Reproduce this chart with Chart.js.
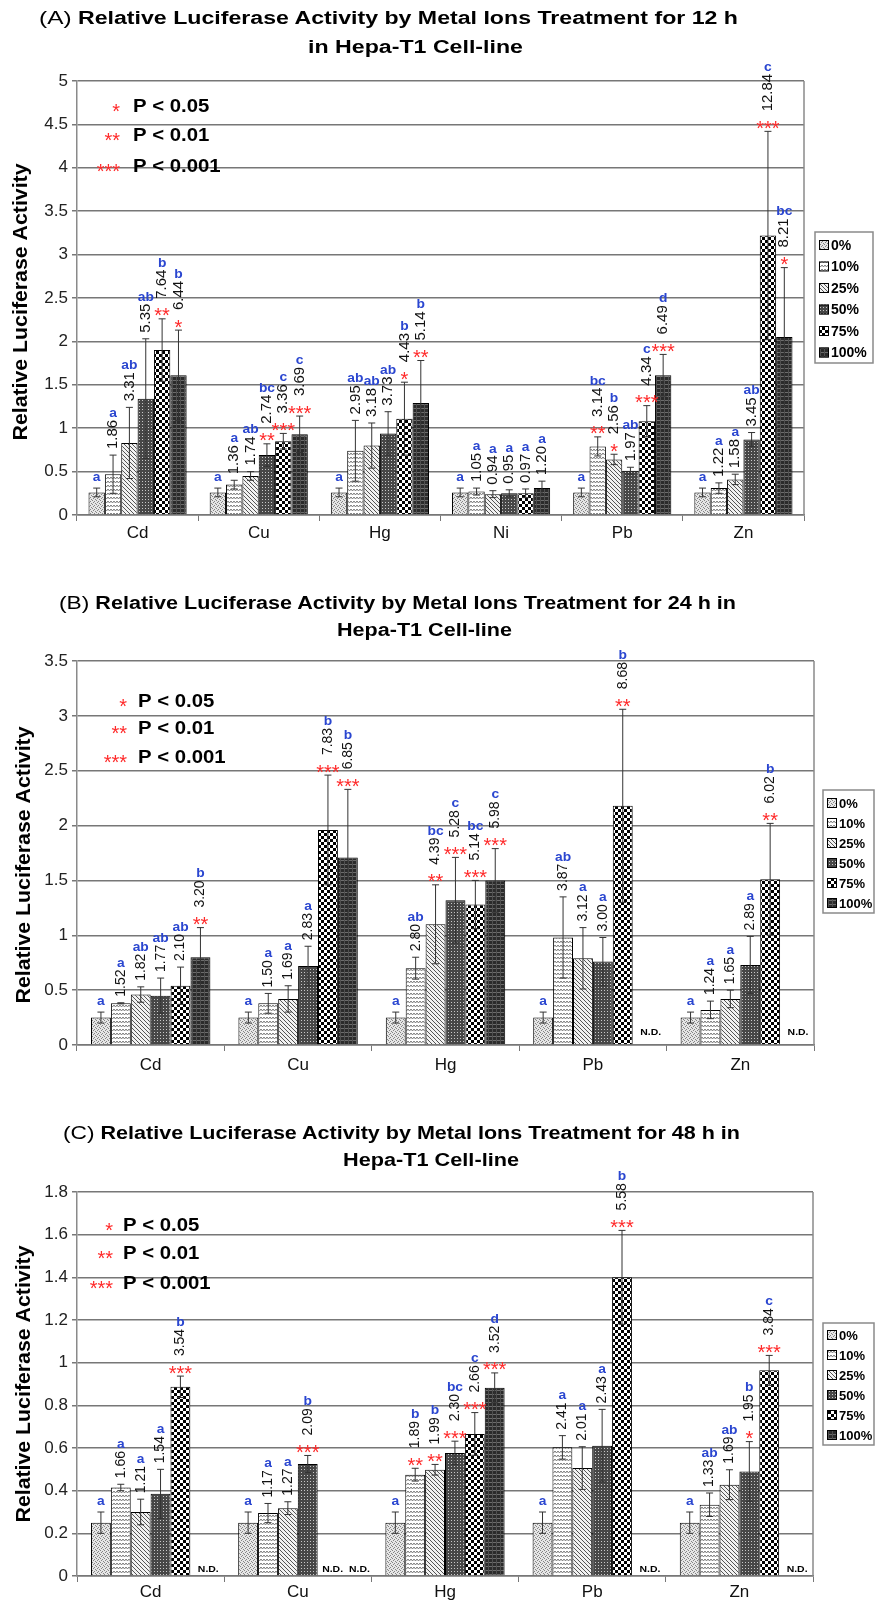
<!DOCTYPE html>
<html>
<head>
<meta charset="utf-8">
<script src="https://cdn.jsdelivr.net/npm/chart.js@4.4.1/dist/chart.umd.min.js"></script>
<style>
  body { margin: 0; background: #fff; width: 875px; height: 1604px; position: relative; overflow: hidden; font-family: "Liberation Sans", Arial, sans-serif; }
  canvas { position: absolute; left: 0; }
  .t { position: absolute; white-space: nowrap; font-weight: bold; font-size: 18px; line-height: 20px; color: #000; transform-origin: 0 50%; }
  .t span { font-weight: normal; font-size: 19px; }
</style>
</head>
<body>
<canvas id="cA"></canvas>
<canvas id="cB"></canvas>
<canvas id="cC"></canvas>

<div class="t" data-l="39" data-r="738" data-y="18"><span>(A)</span> Relative Luciferase Activity by Metal Ions Treatment for 12 h</div>
<div class="t" data-l="308" data-r="523" data-y="47">in Hepa-T1 Cell-line</div>
<div class="t" data-l="59" data-r="736" data-y="603"><span>(B)</span> Relative Luciferase Activity by Metal Ions Treatment for 24 h in</div>
<div class="t" data-l="337" data-r="512" data-y="630">Hepa-T1 Cell-line</div>
<div class="t" data-l="63" data-r="740" data-y="1133"><span>(C)</span> Relative Luciferase Activity by Metal Ions Treatment for 48 h in</div>
<div class="t" data-l="343" data-r="519" data-y="1160">Hepa-T1 Cell-line</div>

<script>
const FONT = "'Liberation Sans', Arial, Helvetica, sans-serif";
Chart.defaults.font.family = FONT;

const series = ['0%', '10%', '25%', '50%', '75%', '100%'];

// rows = series (0% .. 100%), columns = metals

// (A) 12 h
const metalsA = ['Cd', 'Cu', 'Hg', 'Ni', 'Pb', 'Zn'];
const meanA = [
  [0.26, 0.26, 0.26, 0.26, 0.26, 0.26],
  [0.47, 0.35, 0.74, 0.27, 0.79, 0.31],
  [0.83, 0.45, 0.80, 0.24, 0.64, 0.41],
  [1.34, 0.69, 0.94, 0.25, 0.51, 0.87],
  [1.90, 0.85, 1.11, 0.25, 1.08, 3.22],
  [1.61, 0.93, 1.29, 0.31, 1.61, 2.05]
];
const errA = [
  [0.05, 0.05, 0.05, 0.05, 0.05, 0.05],
  [0.22, 0.05, 0.35, 0.04, 0.11, 0.06],
  [0.41, 0.05, 0.26, 0.04, 0.06, 0.06],
  [0.69, 0.13, 0.25, 0.04, 0.04, 0.08],
  [0.36, 0.09, 0.42, 0.05, 0.18, 1.20],
  [0.52, 0.21, 0.49, 0.08, 0.24, 0.80]
];
const foldA = [
  ['', '', '', '', '', ''],
  ['1.86', '1.36', '2.95', '1.05', '3.14', '1.22'],
  ['3.31', '1.74', '3.18', '0.94', '2.56', '1.58'],
  ['5.35', '2.74', '3.73', '0.95', '1.97', '3.45'],
  ['7.64', '3.36', '4.43', '0.97', '4.34', '12.84'],
  ['6.44', '3.69', '5.14', '1.20', '6.49', '8.21']
];
const letterA = [
  ['a', 'a', 'a', 'a', 'a', 'a'],
  ['a', 'a', 'ab', 'a', 'bc', 'a'],
  ['ab', 'ab', 'ab', 'a', 'b', 'a'],
  ['ab', 'bc', 'ab', 'a', 'ab', 'ab'],
  ['b', 'c', 'b', 'a', 'c', 'c'],
  ['b', 'c', 'b', 'a', 'd', 'bc']
];
const starsA = [
  [0, 0, 0, 0, 0, 0],
  [0, 0, 0, 0, 2, 0],
  [0, 0, 0, 0, 1, 0],
  [0, 2, 0, 0, 0, 0],
  [2, 3, 1, 0, 3, 3],
  [1, 3, 2, 0, 3, 1]
];

// (B) 24 h
const metalsB = ['Cd', 'Cu', 'Hg', 'Pb', 'Zn'];
const meanB = [
  [0.25, 0.25, 0.25, 0.25, 0.25],
  [0.38, 0.38, 0.70, 0.98, 0.32],
  [0.46, 0.42, 1.10, 0.79, 0.42],
  [0.45, 0.72, 1.32, 0.76, 0.73],
  [0.54, 1.96, 1.28, 2.18, 1.51],
  [0.80, 1.71, 1.50, null, null]
];
const errB = [
  [0.05, 0.05, 0.05, 0.05, 0.05],
  [0.005, 0.09, 0.10, 0.37, 0.08],
  [0.07, 0.12, 0.36, 0.28, 0.08],
  [0.16, 0.18, 0.39, 0.22, 0.26],
  [0.17, 0.50, 0.22, 0.88, 0.51],
  [0.27, 0.62, 0.29, null, null]
];
const foldB = [
  ['', '', '', '', ''],
  ['1.52', '1.50', '2.80', '3.87', '1.24'],
  ['1.82', '1.69', '4.39', '3.12', '1.65'],
  ['1.77', '2.83', '5.28', '3.00', '2.89'],
  ['2.10', '7.83', '5.14', '8.68', '6.02'],
  ['3.20', '6.85', '5.98', '', '']
];
const letterB = [
  ['a', 'a', 'a', 'a', 'a'],
  ['a', 'a', 'ab', 'ab', 'a'],
  ['ab', 'a', 'bc', 'a', 'a'],
  ['ab', 'a', 'c', 'a', 'a'],
  ['ab', 'b', 'bc', 'b', 'b'],
  ['b', 'b', 'c', '', '']
];
const starsB = [
  [0, 0, 0, 0, 0],
  [0, 0, 0, 0, 0],
  [0, 0, 2, 0, 0],
  [0, 0, 3, 0, 0],
  [0, 3, 3, 2, 2],
  [2, 3, 3, 0, 0]
];

// (C) 48 h
const metalsC = ['Cd', 'Cu', 'Hg', 'Pb', 'Zn'];
const meanC = [
  [0.25, 0.25, 0.25, 0.25, 0.25],
  [0.415, 0.295, 0.475, 0.603, 0.334],
  [0.30, 0.318, 0.498, 0.506, 0.428],
  [0.385, 0.525, 0.577, 0.611, 0.49],
  [0.887, null, 0.666, 1.40, 0.964],
  [null, null, 0.882, null, null]
];
const errC = [
  [0.05, 0.05, 0.05, 0.05, 0.05],
  [0.015, 0.045, 0.03, 0.055, 0.055],
  [0.06, 0.03, 0.025, 0.10, 0.07],
  [0.115, 0.04, 0.055, 0.17, 0.14],
  [0.05, null, 0.10, 0.22, 0.07],
  [null, null, 0.07, null, null]
];
const foldC = [
  ['', '', '', '', ''],
  ['1.66', '1.17', '1.89', '2.41', '1.33'],
  ['1.21', '1.27', '1.99', '2.01', '1.69'],
  ['1.54', '2.09', '2.30', '2.43', '1.95'],
  ['3.54', '', '2.66', '5.58', '3.84'],
  ['', '', '3.52', '', '']
];
const letterC = [
  ['a', 'a', 'a', 'a', 'a'],
  ['a', 'a', 'b', 'a', 'ab'],
  ['a', 'a', 'b', 'a', 'ab'],
  ['a', 'b', 'bc', 'a', 'b'],
  ['b', '', 'c', 'b', 'c'],
  ['', '', 'd', '', '']
];
const starsC = [
  [0, 0, 0, 0, 0],
  [0, 0, 2, 0, 0],
  [0, 0, 2, 0, 0],
  [0, 3, 3, 0, 1],
  [3, 0, 3, 3, 3],
  [0, 0, 3, 0, 0]
];

const pLegend = [['*', 'P < 0.05'], ['**', 'P < 0.01'], ['***', 'P < 0.001']];

// bar fill patterns, one per concentration
function tile(w, h, draw) {
  const c = document.createElement('canvas');
  c.width = w; c.height = h;
  const g = c.getContext('2d');
  draw(g);
  return g.createPattern(c, 'repeat');
}
const fills = [
  tile(4, 4, g => {
    g.fillStyle = '#e6e6e6'; g.fillRect(0, 0, 4, 4);
    g.fillStyle = '#858585';
    [[0, 0], [2, 1], [1, 2], [3, 3]].forEach(p => g.fillRect(p[0], p[1], 1, 1));
  }),
  tile(6, 4, g => {
    g.fillStyle = '#fff'; g.fillRect(0, 0, 6, 4);
    g.strokeStyle = '#7a7a7a'; g.lineWidth = 1;
    g.beginPath(); g.moveTo(0, 1); g.lineTo(1.5, 3); g.lineTo(3, 1); g.lineTo(4.5, 3); g.lineTo(6, 1); g.stroke();
  }),
  tile(4, 4, g => {
    g.fillStyle = '#f2f2f2'; g.fillRect(0, 0, 4, 4);
    g.fillStyle = '#555';
    for (let i = 0; i < 4; i++) g.fillRect(i, i, 1, 1);
  }),
  tile(3, 3, g => {
    g.fillStyle = '#474747'; g.fillRect(0, 0, 3, 3);
    g.fillStyle = '#c8c8c8'; g.fillRect(1, 1, 1, 1);
  }),
  tile(6, 6, g => {
    g.fillStyle = '#000'; g.fillRect(0, 0, 6, 6);
    g.fillStyle = '#fff'; g.fillRect(0, 0, 3, 3); g.fillRect(3, 3, 3, 3);
  }),
  tile(4, 4, g => {
    g.fillStyle = '#2b2b2b'; g.fillRect(0, 0, 4, 4);
    g.fillStyle = '#6c6c6c'; g.fillRect(0, 0, 4, 1);
    g.fillStyle = '#505050'; g.fillRect(0, 0, 1, 4);
  })
];

function sText(ctx, txt, x, y, sx) {
  ctx.save();
  ctx.translate(x, y);
  ctx.scale(sx, 1);
  ctx.fillText(txt, 0, 0);
  ctx.restore();
}

function makeDeco(p) {
  return {
    id: 'deco',
    afterDraw(chart) {
      const { ctx, chartArea: a, scales: { x: xs, y } } = chart;
      const T = p.top;
      const ds0 = chart.data.datasets;
      ctx.save();

      ctx.strokeStyle = '#8a8a8a'; ctx.lineWidth = 1.5;
      ctx.beginPath(); ctx.moveTo(a.right, a.top); ctx.lineTo(a.right, a.bottom); ctx.stroke();

      const catW = xs.width / chart.data.labels.length;
      const bw = catW * 0.81 / series.length;

      ds0.forEach((ds, si) => {
        chart.getDatasetMeta(si).data.forEach((bar, ci) => {
          const v = ds.data[ci];
          const x = isFinite(bar.x) ? bar.x : xs.getPixelForValue(ci) + (si - 2.5) * bw;
          if (v == null) {
            let off = 8;
            if (si < 5 && ds0[si + 1].data[ci] == null) off = 5;
            else if (si > 0 && ds0[si - 1].data[ci] == null) off = 12;
            ctx.font = 'bold 9.5px ' + FONT; ctx.fillStyle = '#000';
            ctx.textAlign = 'center'; ctx.textBaseline = 'alphabetic';
            sText(ctx, 'N.D.', x + off, a.bottom - p.ndLift, 1.1);
            return;
          }
          const e = p.err[si][ci];
          const yt = y.getPixelForValue(v + e);
          const yb = y.getPixelForValue(Math.max(v - e, 0));
          ctx.strokeStyle = '#333'; ctx.lineWidth = 1;
          ctx.beginPath();
          ctx.moveTo(x, yt); ctx.lineTo(x, yb);
          ctx.moveTo(x - 3.5, yt); ctx.lineTo(x + 3.5, yt);
          ctx.moveTo(x - 3.5, yb); ctx.lineTo(x + 3.5, yb);
          ctx.stroke();

          let cur = yt - 4;
          const n = p.stars[si][ci];
          if (n) {
            const c = yt - 8;
            ctx.font = '20px ' + FONT; ctx.fillStyle = '#ff2a2a';
            ctx.textAlign = 'center'; ctx.textBaseline = 'alphabetic';
            ctx.fillText('*'.repeat(n), x, c + 11.5);
            cur = c - 10;
          }
          const f = p.fold[si][ci];
          if (f) {
            ctx.font = p.foldSize + 'px ' + FONT; ctx.fillStyle = '#111';
            const w = ctx.measureText(f).width;
            ctx.save();
            ctx.translate(x, cur - 2);
            ctx.rotate(-Math.PI / 2);
            ctx.textAlign = 'left'; ctx.textBaseline = 'middle';
            ctx.fillText(f, 0, 0);
            ctx.restore();
            cur = cur - 2 - w;
          }
          const L = p.letter[si][ci];
          if (L) {
            ctx.font = 'bold 12px ' + FONT; ctx.fillStyle = '#2a46d0';
            ctx.textAlign = 'center'; ctx.textBaseline = 'alphabetic';
            sText(ctx, L, x, cur - 3, 1.15);
          }
        });
      });

      // y axis title
      ctx.save();
      ctx.translate(p.yTitle[0], p.yTitle[1] - T);
      ctx.rotate(-Math.PI / 2);
      ctx.font = 'bold 20px ' + FONT;
      const tw = ctx.measureText('Relative Luciferase Activity').width;
      ctx.scale(277 / tw, 1);
      ctx.fillStyle = '#000'; ctx.textAlign = 'center'; ctx.textBaseline = 'middle';
      ctx.fillText('Relative Luciferase Activity', 0, 0);
      ctx.restore();

      // significance key
      pLegend.forEach((r, i) => {
        const ry = p.pRows[i] - T;
        ctx.font = '20px ' + FONT; ctx.fillStyle = '#ff2a2a';
        ctx.textAlign = 'right'; ctx.textBaseline = 'alphabetic';
        ctx.fillText(r[0], p.pStarX, ry + 11.5);
        ctx.font = 'bold 18px ' + FONT; ctx.fillStyle = '#000';
        ctx.textAlign = 'left'; ctx.textBaseline = 'middle';
        sText(ctx, r[1], p.pTextX, ry + 1, 1.13);
      });

      // series legend
      const lg = p.legend;
      ctx.fillStyle = '#fff';
      ctx.fillRect(lg.x, lg.y - T, lg.w, lg.h);
      ctx.strokeStyle = '#8a8a8a'; ctx.lineWidth = 1.5;
      ctx.strokeRect(lg.x, lg.y - T, lg.w, lg.h);
      series.forEach((s, i) => {
        const ry = lg.row0 + i * lg.dy - T;
        ctx.fillStyle = fills[i];
        ctx.fillRect(lg.x + 4, ry - 5, 10, 10);
        ctx.strokeStyle = '#000'; ctx.lineWidth = 1;
        ctx.strokeRect(lg.x + 4.5, ry - 4.5, 9, 9);
        ctx.font = 'bold ' + lg.size + 'px ' + FONT; ctx.fillStyle = '#000';
        ctx.textAlign = 'left'; ctx.textBaseline = 'middle';
        ctx.fillText(s, lg.x + 16, ry + 1);
      });

      ctx.restore();
    }
  };
}

function build(id, cats, mean, p) {
  const cv = document.getElementById(id);
  cv.width = 875; cv.height = p.height; cv.style.top = p.top + 'px';
  new Chart(cv, {
    type: 'bar',
    data: {
      labels: cats,
      datasets: series.map((s, i) => ({
        label: s,
        data: mean[i],
        backgroundColor: fills[i],
        borderColor: '#000',
        borderWidth: 1,
        categoryPercentage: 0.81,
        barPercentage: 1
      }))
    },
    options: {
      responsive: false,
      animation: false,
      layout: { padding: { top: p.padTop, right: p.padRight, left: 0, bottom: 0 } },
      plugins: { legend: { display: false }, tooltip: { enabled: false } },
      scales: {
        x: {
          grid: { drawOnChartArea: false, tickLength: 6, color: '#777', offset: true },
          border: { color: '#777', width: 1.5 },
          ticks: { font: { size: 17 }, color: '#111', padding: p.xPad },
          afterFit: s => { s.height = p.xH; }
        },
        y: {
          min: 0, max: p.max,
          ticks: {
            stepSize: p.step, font: { size: 17 }, color: '#222', padding: 4,
            callback: v => String(+v.toFixed(2))
          },
          grid: { color: '#777', lineWidth: 1.5, tickLength: 5 },
          border: { color: '#8a8a8a', width: 1.5 },
          afterFit: s => { s.width = 77; }
        }
      }
    },
    plugins: [makeDeco(p)]
  });
}

build('cA', metalsA, meanA, {
  top: 0, height: 548, padTop: 81, padRight: 71, xH: 33, xPad: 2, max: 5, step: 0.5,
  err: errA, fold: foldA, letter: letterA, stars: starsA, foldSize: 15, ndLift: 10,
  yTitle: [21, 302], pStarX: 120, pTextX: 133, pRows: [106, 135, 166],
  legend: { x: 815, y: 232, w: 58, h: 131, row0: 245, dy: 21.5, size: 14 }
});
build('cB', metalsB, meanB, {
  top: 548, height: 530, padTop: 113, padRight: 61, xH: 33, xPad: 4, max: 3.5, step: 0.5,
  err: errB, fold: foldB, letter: letterB, stars: starsB, foldSize: 14, ndLift: 10,
  yTitle: [24, 865], pStarX: 127, pTextX: 138, pRows: [701, 728, 757],
  legend: { x: 823, y: 790, w: 51, h: 123, row0: 803, dy: 20, size: 13 }
});
build('cC', metalsC, meanC, {
  top: 1078, height: 526, padTop: 114, padRight: 62, xH: 28, xPad: 0, max: 1.8, step: 0.2,
  err: errC, fold: foldC, letter: letterC, stars: starsC, foldSize: 14, ndLift: 4,
  yTitle: [24, 1384], pStarX: 113, pTextX: 123, pRows: [1225, 1253, 1283],
  legend: { x: 823, y: 1323, w: 51, h: 122, row0: 1335, dy: 20, size: 13 }
});

// stretch title lines to the measured span
document.querySelectorAll('.t').forEach(el => {
  const l = +el.dataset.l, r = +el.dataset.r, yc = +el.dataset.y;
  el.style.left = l + 'px';
  el.style.top = (yc - 10) + 'px';
  const w = el.getBoundingClientRect().width;
  el.style.transform = 'scaleX(' + ((r - l) / w).toFixed(4) + ')';
});
</script>
</body>
</html>
